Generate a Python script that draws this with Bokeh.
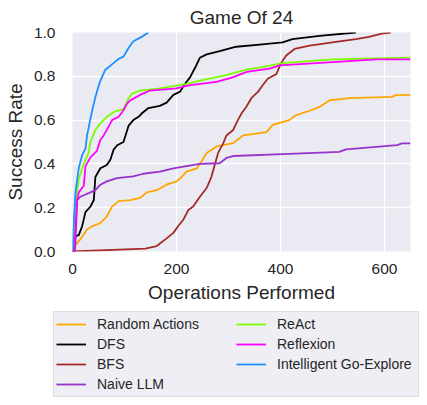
from bokeh.plotting import figure
from bokeh.layouts import column, row
from bokeh.models import Range1d, FixedTicker, PrintfTickFormatter, Legend, LegendItem
from bokeh.embed import file_html
from bokeh.resources import INLINE

FONT = "Liberation Sans"
TXT = "#262626"

tick_x = [0, 200, 400, 600]
tick_y = [0.0, 0.2, 0.4, 0.6, 0.8, 1.0]

rand_x = [0, 5.7, 15, 28, 37.6, 53.6, 66, 76, 89, 111, 130, 143, 162, 181, 200, 210, 219, 239, 245, 258, 277, 309, 328, 373, 385, 417, 430, 459, 475, 494, 532, 615, 621, 650]
rand_y = [0, 0.03, 0.055, 0.10, 0.115, 0.13, 0.16, 0.205, 0.23, 0.235, 0.245, 0.27, 0.28, 0.305, 0.32, 0.34, 0.365, 0.38, 0.40, 0.45, 0.48, 0.495, 0.53, 0.545, 0.578, 0.60, 0.623, 0.645, 0.66, 0.69, 0.70, 0.706, 0.714, 0.715]

dfs_x = [0, 3, 5.7, 12, 18.5, 24.9, 34.5, 41, 44, 53.6, 66, 73, 79, 86, 98, 108, 117, 127, 133, 146, 168, 181, 194, 207, 216, 226, 236, 245, 258, 283, 315, 360, 404, 423, 475, 545]
dfs_y = [0, 0, 0.07, 0.075, 0.115, 0.18, 0.205, 0.235, 0.34, 0.38, 0.395, 0.42, 0.465, 0.485, 0.50, 0.575, 0.60, 0.615, 0.63, 0.655, 0.665, 0.68, 0.715, 0.73, 0.765, 0.795, 0.84, 0.885, 0.90, 0.915, 0.935, 0.945, 0.955, 0.97, 0.985, 1.0]

bfs_x = [0, 140, 162, 181, 194, 203, 213, 223, 232, 245, 258, 267, 274, 280, 290, 296, 309, 318, 325, 334, 344, 357, 366, 376, 392, 401, 411, 427, 456, 500, 545, 570, 595, 612]
bfs_y = [0, 0.013, 0.025, 0.06, 0.085, 0.115, 0.145, 0.19, 0.205, 0.25, 0.29, 0.34, 0.40, 0.45, 0.495, 0.53, 0.555, 0.60, 0.63, 0.66, 0.70, 0.73, 0.76, 0.79, 0.81, 0.86, 0.895, 0.925, 0.94, 0.955, 0.97, 0.98, 0.995, 1.0]

naive_x = [0, 5, 9, 15, 34.5, 44, 53.6, 66, 85.5, 117, 136, 168, 194, 219, 245, 283, 296, 309, 404, 513, 526, 624, 634, 650]
naive_y = [0, 0, 0.235, 0.25, 0.27, 0.28, 0.305, 0.32, 0.335, 0.343, 0.355, 0.365, 0.38, 0.39, 0.40, 0.403, 0.427, 0.436, 0.445, 0.455, 0.466, 0.486, 0.494, 0.494]

react_x = [0, 3, 5.7, 9, 12, 21.7, 31, 34.5, 44, 53.6, 66, 82, 98, 108, 114, 130, 168, 219, 245, 296, 334, 360, 404, 500, 650]
react_y = [0, 0.12, 0.22, 0.28, 0.33, 0.40, 0.45, 0.50, 0.555, 0.585, 0.615, 0.64, 0.65, 0.70, 0.72, 0.735, 0.745, 0.765, 0.78, 0.805, 0.83, 0.84, 0.86, 0.877, 0.885]

refl_x = [0, 3, 5.7, 8.9, 12, 21.7, 24.9, 34.5, 47, 53.6, 60, 69.5, 76, 89, 98, 105, 111, 130, 149, 200, 226, 277, 308, 335, 379, 398, 500, 584, 650]
refl_y = [0, 0, 0.11, 0.235, 0.27, 0.30, 0.39, 0.43, 0.46, 0.51, 0.53, 0.57, 0.60, 0.615, 0.645, 0.675, 0.69, 0.715, 0.735, 0.745, 0.76, 0.775, 0.795, 0.82, 0.835, 0.85, 0.865, 0.877, 0.877]

ige_x = [0, 2, 3, 5.7, 12, 18.5, 25, 28, 34, 38, 44, 52, 63, 79, 89, 98, 108, 117, 133, 146]
ige_y = [0, 0.10, 0.16, 0.27, 0.38, 0.44, 0.47, 0.53, 0.60, 0.645, 0.705, 0.77, 0.83, 0.86, 0.88, 0.89, 0.93, 0.96, 0.98, 1.0]

series = [
    ("Random Actions", rand_x, rand_y, "#FFA500"),
    ("DFS", dfs_x, dfs_y, "#000000"),
    ("BFS", bfs_x, bfs_y, "#A52A2A"),
    ("Naive LLM", naive_x, naive_y, "#9932CC"),
    ("ReAct", react_x, react_y, "#7CFC00"),
    ("Reflexion", refl_x, refl_y, "#FF00FF"),
    ("Intelligent Go-Explore", ige_x, ige_y, "#1E90FF"),
]

p = figure(frame_width=338, frame_height=219, output_backend="svg", toolbar_location=None,
           x_range=Range1d(0, 650), y_range=Range1d(0, 1.0),
           min_border_left=72, min_border_right=9, min_border_top=32, min_border_bottom=56)
p.background_fill_color = "#EAEAF2"
p.border_fill_color = "white"
p.outline_line_color = None

p.title.text = "Game Of 24"
p.title.align = "center"
p.title.text_font = FONT
p.title.text_font_size = "19px"
p.title.text_font_style = "normal"
p.title.text_color = TXT
p.title.standoff = 9

for ax in (p.xaxis[0], p.yaxis[0]):
    ax.axis_line_color = None
    ax.major_tick_line_color = None
    ax.minor_tick_line_color = None
    ax.major_tick_out = 0
    ax.major_tick_in = 0
    ax.minor_tick_out = 0
    ax.major_label_text_font = FONT
    ax.major_label_text_font_size = "15.5px"
    ax.major_label_text_color = TXT
    ax.axis_label_text_font = FONT
    ax.axis_label_text_font_size = "19px"
    ax.axis_label_text_font_style = "normal"
    ax.axis_label_text_color = TXT

p.xaxis.ticker = FixedTicker(ticks=tick_x)
p.yaxis.ticker = FixedTicker(ticks=tick_y)
p.yaxis.formatter = PrintfTickFormatter(format="%.1f")
p.xaxis.axis_label = "Operations Performed"
p.yaxis.axis_label = "Success Rate"
p.xaxis.major_label_standoff = 12
p.xaxis.axis_label_standoff = 5
p.yaxis.major_label_standoff = 17
p.yaxis.axis_label_standoff = 5

p.xgrid.grid_line_color = "white"
p.ygrid.grid_line_color = "white"
p.xgrid.grid_line_width = 1.3
p.ygrid.grid_line_width = 1.3
p.xgrid.ticker = FixedTicker(ticks=tick_x)
p.ygrid.ticker = FixedTicker(ticks=tick_y)

for name, xs, ys, col in series:
    p.line(xs, ys, line_color=col, line_width=1.8)

# legend panel below the chart (its own lines sit outside its visible range)
p2 = figure(width=419, height=90, output_backend="svg", toolbar_location=None,
            x_range=Range1d(1000, 1001), y_range=Range1d(0, 1),
            x_axis_location=None, y_axis_location=None, min_border=0)
p2.grid.visible = False
p2.outline_line_color = None
p2.background_fill_color = "white"
p2.border_fill_color = "white"

items = []
for name, xs, ys, col in series:
    r = p2.line(xs, ys, line_color=col, line_width=1.8)
    items.append(LegendItem(label=name, renderers=[r]))

leg = Legend(items=items, location=(53, 0), nrows=4)
leg.label_text_font = FONT
leg.label_text_font_size = "14px"
leg.label_text_color = TXT
leg.glyph_width = 30
leg.glyph_height = 20
leg.label_height = 20
leg.label_width = 139
leg.label_standoff = 11
leg.spacing = 0
leg.padding = 2
leg.margin = 0
leg.border_line_color = "#CCCCCC"
leg.border_line_width = 1
leg.background_fill_color = "#EEEEF4"
leg.background_fill_alpha = 1.0
p2.add_layout(leg, "center")

layout = column(column(p), row(p2), spacing=0)
open("out.html", "w").write(file_html(layout, INLINE))
